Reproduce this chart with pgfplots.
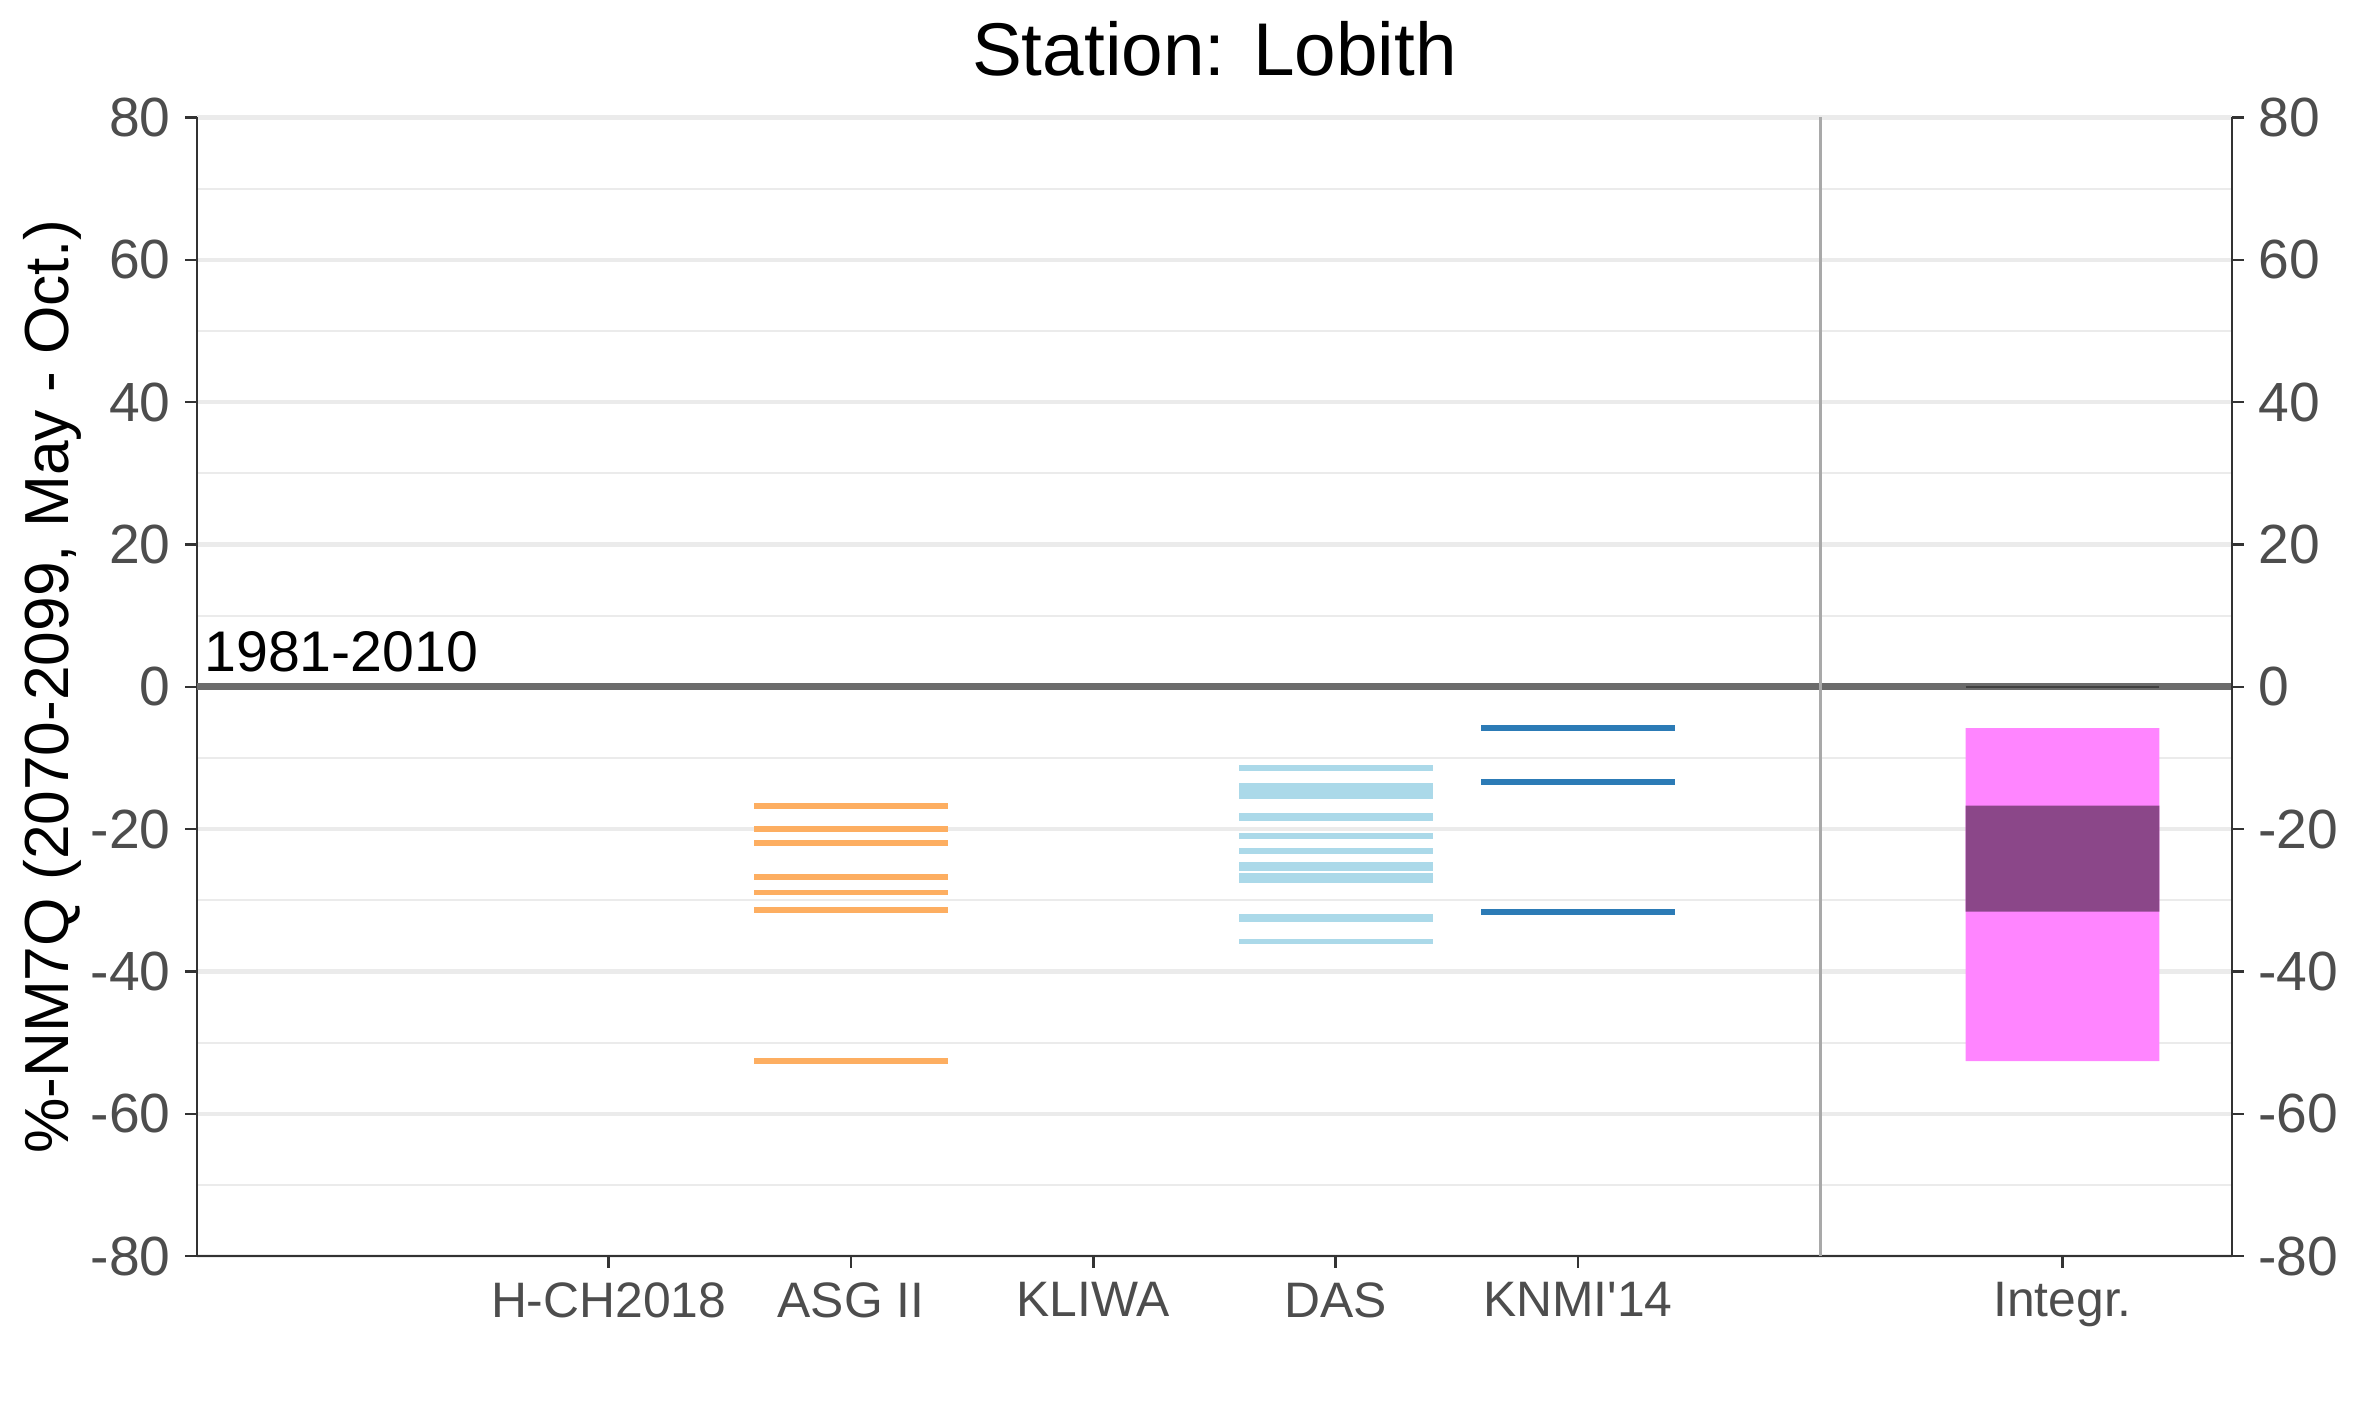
\documentclass[border=0pt]{standalone}
\usepackage{pgfplots}
\pgfplotsset{compat=1.18}
\usepackage{fontspec}
\setmainfont{Liberation Sans}
\definecolor{asg}{RGB}{253,174,97}
\definecolor{das}{RGB}{171,217,233}
\definecolor{knmi}{RGB}{44,123,182}
\definecolor{intlo}{RGB}{255,133,255}
\definecolor{inthi}{RGB}{139,71,137}
\definecolor{zerogray}{RGB}{107,107,107}
\definecolor{vgray}{RGB}{169,169,169}
\definecolor{gridgray}{RGB}{235,235,235}
\definecolor{tickgray}{RGB}{51,51,51}
\definecolor{labgray}{RGB}{77,77,77}
\begin{document}
\begin{tikzpicture}
\pgfplotsset{
  common/.style={
    scale only axis, width=490.3pt, height=274.3pt,
    xmin=-0.7, xmax=7.7, ymin=-80, ymax=80,
    ytick={-80,-60,...,80},
    tick align=outside, major tick length=2.8pt,
    tick style={draw=tickgray, line width=0.6pt},
    axis line style={draw=tickgray, line width=0.6pt, -},
    /pgf/number format/assume math mode=true,
    yticklabel style={font=\fontsize{13.3}{16}\selectfont, text=labgray},
  },
  seg/.style={draw=none, mark=none,
    error bars/.cd, x dir=both, x fixed=0.4, error mark=none,
    error bar style={draw=#1, line width=1.4pt}},
}
\begin{axis}[common,
  axis x line*=bottom, axis y line*=left,
  xtick={1,2,3,4,5,7},
  xticklabels={H-CH2018, ASG II, KLIWA, DAS, KNMI\textquotesingle14, Integr.},
  xticklabel style={font=\fontsize{12}{14}\selectfont, text=labgray},
  minor ytick={-70,-50,...,70},
  minor tick length=0pt,
  ymajorgrids, yminorgrids,
  major grid style={draw=gridgray, line width=1pt},
  minor grid style={draw=gridgray, line width=0.5pt},
  ylabel={\%-NM7Q (2070-2099, May - Oct.)},
  ylabel style={font=\fontsize{15}{18}\selectfont, at={(axis description cs:-0.0628,0.5)}, anchor=base},
  clip=false,
]
% reference line and separator
\addplot[draw=zerogray, line width=1.7pt] coordinates {(-0.7,0) (7.7,0)};
\addplot[draw=vgray, line width=0.8pt] coordinates {(6,-80) (6,80)};
% Integrated ranges
\addplot[fill=intlo, draw=none] coordinates {(6.6,-5.8) (7.4,-5.8) (7.4,-52.6) (6.6,-52.6) (6.6,-5.8)};
\addplot[fill=inthi, draw=none] coordinates {(6.6,-16.7) (7.4,-16.7) (7.4,-31.6) (6.6,-31.6) (6.6,-16.7)};
\addplot[draw=black!75, line width=0.5pt] coordinates {(6.6,0) (7.4,0)};
% ASG II
\addplot[seg=asg] coordinates {
  (2,-16.7) (2,-20.0) (2,-22.0) (2,-26.7) (2,-28.9) (2,-31.4) (2,-52.6)};
% DAS
\addplot[seg=das] coordinates {
  (4,-11.4) (4,-13.9) (4,-14.6) (4,-15.3) (4,-18.1) (4,-18.5) (4,-21.0)
  (4,-23.1) (4,-25.0) (4,-25.5) (4,-26.6) (4,-27.1) (4,-32.4) (4,-32.6) (4,-35.8)};
% KNMI'14
\addplot[seg=knmi] coordinates {(5,-5.8) (5,-13.4) (5,-31.6)};
\node[anchor=base west, inner sep=0pt, font=\fontsize{13.8}{16}\selectfont] at (axis cs:-0.672,2.1) {1981-2010};
\node[anchor=base, inner sep=0pt, font=\fontsize{18}{22}\selectfont] at ([yshift=10pt]rel axis cs:0.5,1) {Station: Lobith};
\end{axis}
\begin{axis}[common,
  axis y line*=right, axis x line=none,
]
\end{axis}
\pgfresetboundingbox
\path ([shift={(-47.4pt,-38.8pt)}]current axis.south west) rectangle ([shift={(31.3pt,28.3pt)}]current axis.north east);
\end{tikzpicture}
\end{document}
